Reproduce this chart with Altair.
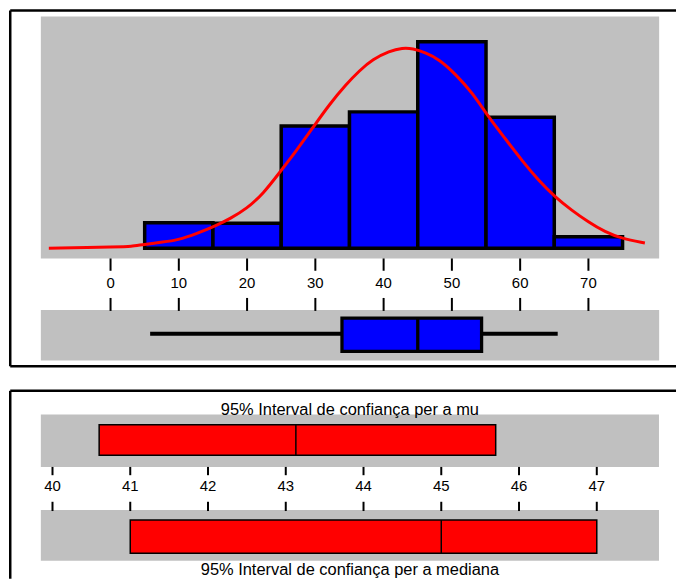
import altair as alt
import pandas as pd

# ---------------- data ----------------
bin_start = [5, 15, 25, 35, 45, 55, 65]
bin_end = [15, 25, 35, 45, 55, 65, 75]
frequency = [3.07, 3.01, 14.8, 16.5, 25.0, 15.84, 1.39]

curve_x = [-9.04, 1.46, 2.92, 4.81, 7.77, 9.77, 12.64, 15.56, 17.5, 19.94, 22.36,
           24.79, 27.23, 29.65, 32.08, 34.52, 36.46, 38.4, 40.84, 42.77, 44.23,
           46.19, 48.13, 50.56, 52.98, 55.41, 57.85, 60.27, 62.71, 65.14, 67.56,
           70.0, 72.44, 74.86, 78.27]
curve_y = [0.0, 0.16, 0.2, 0.45, 0.76, 0.98, 1.77, 2.77, 3.58, 4.78, 6.59,
           9.19, 11.81, 14.61, 17.43, 19.84, 21.5, 22.86, 23.86, 24.25, 24.18,
           23.65, 22.86, 21.05, 18.83, 15.82, 13.22, 10.6, 8.19, 6.18, 4.58,
           3.17, 1.96, 1.17, 0.64]

box_stats = {"low": 5.8, "q1": 33.9, "median": 45.0, "q3": 54.35, "high": 65.5}

mu_ci = {"lo": 40.6, "mid": 43.13, "hi": 45.7}
median_ci = {"lo": 41.0, "mid": 45.0, "hi": 47.0}

top_ticks = [0, 10, 20, 30, 40, 50, 60, 70]
bottom_ticks = [40, 41, 42, 43, 44, 45, 46, 47]

title_mu = "95% Interval de confiança per a mu"
title_median = "95% Interval de confiança per a mediana"

# ---------------- styling ----------------
GRAY = "#C0C0C0"
BLUE = "#0000FF"
RED = "#FF0000"
FONT = "Liberation Sans"
FRAME_W = 2.5

W = 670
H_TOP = 360
H_BOT = 190

# ---------------- top block ----------------
xs_top = alt.Scale(domain=[-14.875, 82.83], nice=False, zero=False)
ys_top = alt.Scale(domain=[-14.458, 28.916], nice=False, zero=False)

hist_df = pd.DataFrame({"start": bin_start, "end": bin_end, "freq": frequency})
curve_df = pd.DataFrame({"x": curve_x, "y": curve_y})
box_df = pd.DataFrame([box_stats])
ttick_df = pd.DataFrame({"t": top_ticks, "label": [str(t) for t in top_ticks]})
one = pd.DataFrame({"k": [0]})


def frame(xs, ys, left, right, top, bottom, with_bottom):
    layers = [
        alt.Chart(one).mark_rule(color="black", strokeWidth=FRAME_W).encode(
            x=alt.datum(left, scale=xs, axis=None), x2=alt.datum(right),
            y=alt.datum(top, scale=ys, axis=None)),
        alt.Chart(one).mark_rule(color="black", strokeWidth=FRAME_W).encode(
            x=alt.datum(left, scale=xs, axis=None),
            y=alt.datum(top, scale=ys, axis=None), y2=alt.datum(bottom)),
    ]
    if with_bottom:
        layers.append(
            alt.Chart(one).mark_rule(color="black", strokeWidth=FRAME_W).encode(
                x=alt.datum(left, scale=xs, axis=None), x2=alt.datum(right),
                y=alt.datum(bottom, scale=ys, axis=None)))
    return layers


band_hist = alt.Chart(one).mark_rect(color=GRAY).encode(
    x=alt.datum(-10.21, scale=xs_top, axis=None),
    x2=alt.datum(80.36),
    y=alt.datum(28.05, scale=ys_top, axis=None),
    y2=alt.datum(-1.24),
)
band_box = alt.Chart(one).mark_rect(color=GRAY).encode(
    x=alt.datum(-10.21, scale=xs_top, axis=None),
    x2=alt.datum(80.36),
    y=alt.datum(-7.47, scale=ys_top, axis=None),
    y2=alt.datum(-13.58),
)
bars = alt.Chart(hist_df).mark_rect(color=BLUE, stroke="black", strokeWidth=3.5).encode(
    x=alt.X("start:Q", scale=xs_top, axis=None),
    x2="end:Q",
    y=alt.Y("freq:Q", scale=ys_top, axis=None),
    y2=alt.datum(0),
)
curve = alt.Chart(curve_df).mark_line(color=RED, strokeWidth=3, interpolate="basis").encode(
    x=alt.X("x:Q", scale=xs_top, axis=None),
    y=alt.Y("y:Q", scale=ys_top, axis=None),
)
ticks_up = alt.Chart(ttick_df).mark_rule(color="black", strokeWidth=2).encode(
    x=alt.X("t:Q", scale=xs_top, axis=None),
    y=alt.datum(-1.24, scale=ys_top, axis=None),
    y2=alt.datum(-2.73),
)
ticks_lo = alt.Chart(ttick_df).mark_rule(color="black", strokeWidth=2).encode(
    x=alt.X("t:Q", scale=xs_top, axis=None),
    y=alt.datum(-6.02, scale=ys_top, axis=None),
    y2=alt.datum(-7.59),
)
labels_top = alt.Chart(ttick_df).mark_text(font=FONT, fontSize=15, color="black",
                                           baseline="middle", align="center").encode(
    x=alt.X("t:Q", scale=xs_top, axis=None),
    y=alt.datum(-4.25, scale=ys_top, axis=None),
    text="label:N",
)
whisker = alt.Chart(box_df).mark_rule(color="black", strokeWidth=4).encode(
    x=alt.X("low:Q", scale=xs_top, axis=None),
    x2="high:Q",
    y=alt.datum(-10.36, scale=ys_top, axis=None),
)
box = alt.Chart(box_df).mark_rect(color=BLUE, stroke="black", strokeWidth=3.3).encode(
    x=alt.X("q1:Q", scale=xs_top, axis=None),
    x2="q3:Q",
    y=alt.datum(-8.47, scale=ys_top, axis=None),
    y2=alt.datum(-12.49),
)
box_med = alt.Chart(box_df).mark_rule(color="black", strokeWidth=3.3).encode(
    x=alt.X("median:Q", scale=xs_top, axis=None),
    y=alt.datum(-8.47, scale=ys_top, axis=None),
    y2=alt.datum(-12.49),
)

top = alt.layer(
    band_hist, band_box, bars, curve, ticks_up, ticks_lo, labels_top,
    whisker, box, box_med,
    *frame(xs_top, ys_top, -14.693, 82.83, 28.765, -14.277, True)
).properties(width=W, height=H_TOP)

# ---------------- bottom block ----------------
xs_bot = alt.Scale(domain=[39.4405, 48.019], nice=False, zero=False)
ys_bot = alt.Scale(domain=[0, 19.0], nice=False, zero=False)

btick_df = pd.DataFrame({"t": bottom_ticks, "label": [str(t) for t in bottom_ticks]})
ci_df = pd.DataFrame([
    {"row": "mu", "lo": mu_ci["lo"], "mid": mu_ci["mid"], "hi": mu_ci["hi"], "y1": 15.47, "y2": 12.4},
    {"row": "median", "lo": median_ci["lo"], "mid": median_ci["mid"], "hi": median_ci["hi"], "y1": 5.9, "y2": 2.57},
])
title_df = pd.DataFrame({"text": [title_mu, title_median], "yy": [16.9, 0.9]})

bband1 = alt.Chart(one).mark_rect(color=GRAY).encode(
    x=alt.datum(39.85, scale=xs_bot, axis=None), x2=alt.datum(47.80),
    y=alt.datum(16.5, scale=ys_bot, axis=None), y2=alt.datum(11.23),
)
bband2 = alt.Chart(one).mark_rect(color=GRAY).encode(
    x=alt.datum(39.85, scale=xs_bot, axis=None), x2=alt.datum(47.80),
    y=alt.datum(6.9, scale=ys_bot, axis=None), y2=alt.datum(1.8),
)
ci_boxes = alt.Chart(ci_df).mark_rect(color=RED, stroke="black", strokeWidth=1.5).encode(
    x=alt.X("lo:Q", scale=xs_bot, axis=None), x2="hi:Q",
    y=alt.Y("y1:Q", scale=ys_bot, axis=None), y2="y2:Q",
)
ci_mid = alt.Chart(ci_df).mark_rule(color="black", strokeWidth=1.5).encode(
    x=alt.X("mid:Q", scale=xs_bot, axis=None),
    y=alt.Y("y1:Q", scale=ys_bot, axis=None), y2="y2:Q",
)
bticks_up = alt.Chart(btick_df).mark_rule(color="black", strokeWidth=2).encode(
    x=alt.X("t:Q", scale=xs_bot, axis=None),
    y=alt.datum(11.23, scale=ys_bot, axis=None), y2=alt.datum(10.4),
)
bticks_lo = alt.Chart(btick_df).mark_rule(color="black", strokeWidth=2).encode(
    x=alt.X("t:Q", scale=xs_bot, axis=None),
    y=alt.datum(7.73, scale=ys_bot, axis=None), y2=alt.datum(6.8),
)
blabels = alt.Chart(btick_df).mark_text(font=FONT, fontSize=15, color="black",
                                        baseline="middle", align="center").encode(
    x=alt.X("t:Q", scale=xs_bot, axis=None),
    y=alt.datum(9.3, scale=ys_bot, axis=None),
    text="label:N",
)
titles = alt.Chart(title_df).mark_text(font=FONT, fontSize=16.5, color="black",
                                       baseline="middle", align="center").encode(
    x=alt.datum(43.825, scale=xs_bot, axis=None),
    y=alt.Y("yy:Q", scale=ys_bot, axis=None),
    text="text:N",
)

bottom = alt.layer(
    bband1, bband2, ci_boxes, ci_mid, bticks_up, bticks_lo, blabels, titles,
    *frame(xs_bot, ys_bot, 39.4565, 48.019, 18.875, 0, False)
).properties(width=W, height=H_BOT)

chart = alt.vconcat(top, bottom, spacing=21).properties(
    padding=0, background="white"
).configure_view(strokeWidth=0, fill="white")

chart.save("out.html", embed_options={"renderer": "svg", "actions": False})
